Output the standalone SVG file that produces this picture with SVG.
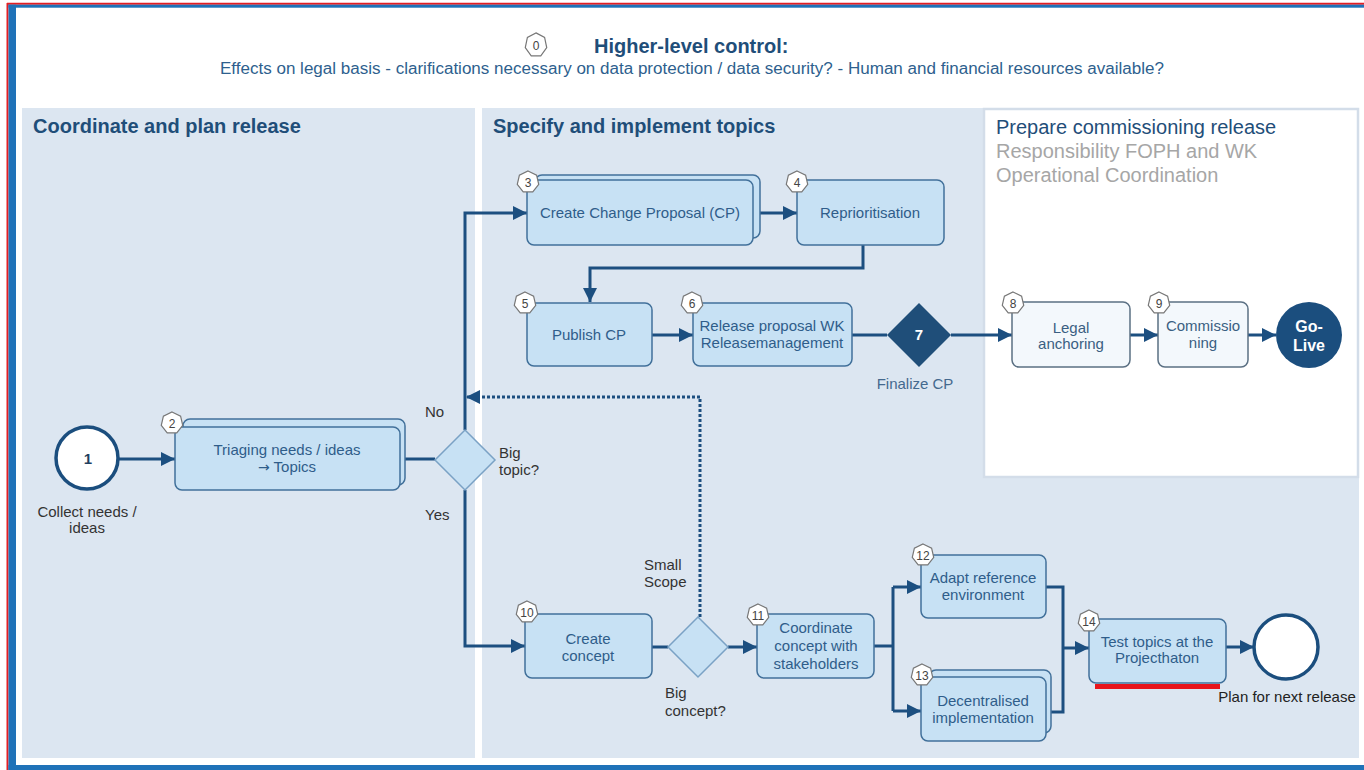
<svg xmlns="http://www.w3.org/2000/svg" xmlns:xlink="http://www.w3.org/1999/xlink" width="1364" height="770" viewBox="0 0 1364 770">
<style>
text{font-family:"Liberation Sans",Arial,Helvetica,sans-serif}
.lane{fill:#dce6f1}
.node{fill:#c7e1f4;stroke:#41709a;stroke-width:1.5}
.node2{fill:#f3f8fc;stroke:#5b7083;stroke-width:1.5}
.dia{fill:#c7e1f4;stroke:#7aa2c5;stroke-width:1.5}
.ntxt{font-size:15px;fill:#2f5d8a;text-anchor:middle}
.ntxt2{font-size:15px;fill:#3a5f82;text-anchor:middle}
.lbl{font-size:15px;fill:#333}
.hep{fill:#fff;stroke:#777;stroke-width:1.2}
.htxt{font-size:12px;fill:#444;text-anchor:middle}
.conn{fill:none;stroke:#1c4f80;stroke-width:3}
.dot{stroke-dasharray:3 2}
.ltitle{font-size:20px;font-weight:bold;fill:#1f4e79}
</style>
<defs>
<marker id="arr" markerUnits="userSpaceOnUse" markerWidth="15" markerHeight="14" refX="14" refY="7" orient="auto">
<path d="M0,0 L14,7 L0,14 z" fill="#1c4f80"/>
</marker>
<polygon id="hept" class="hep" points="0,-11 8.6,-6.86 10.72,2.45 4.77,9.91 -4.77,9.91 -10.72,2.45 -8.6,-6.86"/>
</defs>
<rect x="0" y="0" width="1364" height="770" fill="#fff"/>
<g id="frame">
<path d="M7,3.7 H1364 M7.5,3 V770" stroke="#e31e24" stroke-width="2" fill="none"/>
<rect x="8.5" y="4.7" width="1356" height="3" fill="#1f72b8"/>
<rect x="8.5" y="4.7" width="7.5" height="766" fill="#1f72b8"/>
<rect x="8.5" y="765" width="1356" height="5" fill="#1f72b8"/>
</g>
<g id="header">
<use xlink:href="#hept" href="#hept" transform="translate(536,45) scale(1,1.1)"/>
<text x="536" y="49.5" class="htxt">0</text>
<text x="594" y="53" font-size="20" font-weight="bold" fill="#1f4e79">Higher-level control:</text>
<text x="692" y="74" font-size="16" fill="#2e5f8e" text-anchor="middle" textLength="944" lengthAdjust="spacingAndGlyphs">Effects on legal basis - clarifications necessary on data protection / data security? - Human and financial resources available?</text>
</g>
<g id="lanes">
<rect class="lane" x="22" y="108" width="453" height="650"/>
<rect class="lane" x="482" y="108" width="877" height="650"/>
<rect x="984" y="109" width="374" height="368" fill="#fff" stroke="#d3dde9" stroke-width="2.5"/>
<text x="33" y="133" class="ltitle">Coordinate and plan release</text>
<text x="493" y="133" class="ltitle">Specify and implement topics</text>
<text x="996" y="134" font-size="20" fill="#1f4e79">Prepare commissioning release</text>
<text x="996" y="158" font-size="20" fill="#a6a6a6">Responsibility FOPH and WK</text>
<text x="996" y="182" font-size="20" fill="#a6a6a6">Operational Coordination</text>
</g>
<g id="connectors">
<path class="conn" d="M118,459 H175" marker-end="url(#arr)"/>
<path class="conn" d="M405,459 H435"/>
<path class="conn" d="M465,430 V213 H527" marker-end="url(#arr)"/>
<path class="conn" d="M753,213 H797" marker-end="url(#arr)"/>
<path class="conn" d="M863,245 V268 H590 V302" marker-end="url(#arr)"/>
<path class="conn" d="M652,335 H693" marker-end="url(#arr)"/>
<path class="conn" d="M852,335 H887"/>
<path class="conn" d="M951,335 H1012" marker-end="url(#arr)"/>
<path class="conn" d="M1130,335 H1158" marker-end="url(#arr)"/>
<path class="conn" d="M1248,335 H1276" marker-end="url(#arr)"/>
<path class="conn" d="M465,490 V646 H525" marker-end="url(#arr)"/>
<path class="conn" d="M652,647 H668"/>
<path class="conn" d="M728,647 H757" marker-end="url(#arr)"/>
<path class="conn dot" d="M700,617 V397 H466" marker-end="url(#arr)"/>
<path class="conn" d="M874,646 H893 M893,587 V711"/>
<path class="conn" d="M893,587 H921" marker-end="url(#arr)"/>
<path class="conn" d="M893,711 H921" marker-end="url(#arr)"/>
<path class="conn" d="M1046,587 H1063 V712 H1051"/>
<path class="conn" d="M1063,648 H1089" marker-end="url(#arr)"/>
<path class="conn" d="M1226,647 H1254" marker-end="url(#arr)"/>
</g>
<g id="n1">
<circle cx="87" cy="458" r="31" fill="#fff" stroke="#1b4e7e" stroke-width="3.5"/>
<text x="88" y="464" font-size="15" font-weight="bold" fill="#1f3f60" text-anchor="middle">1</text>
<text x="87" y="517" class="lbl" text-anchor="middle">Collect needs /</text>
<text x="87" y="533" class="lbl" text-anchor="middle">ideas</text>
</g>
<g id="n2">
<rect class="node" x="183" y="419" width="222" height="66" rx="7"/>
<rect class="node" x="175" y="427" width="225" height="63" rx="7"/>
<use xlink:href="#hept" href="#hept" x="172" y="423"/>
<text x="172" y="427.5" class="htxt">2</text>
<text x="287" y="455" class="ntxt">Triaging needs / ideas</text>
<text x="287" y="472" class="ntxt"><tspan font-family="'DejaVu Sans',sans-serif" font-size="14">→</tspan> Topics</text>
</g>
<g id="d1">
<polygon class="dia" points="465,430 495,460 465,490 435,460"/>
<text x="499" y="458" class="lbl">Big</text>
<text x="499" y="475" class="lbl">topic?</text>
<text x="425" y="417" class="lbl">No</text>
<text x="425" y="520" class="lbl">Yes</text>
</g>
<g id="n3">
<rect class="node" x="535" y="175" width="225" height="63" rx="7"/>
<rect class="node" x="527" y="180" width="226" height="65" rx="7"/>
<use xlink:href="#hept" href="#hept" x="528" y="182"/>
<text x="528" y="186.5" class="htxt">3</text>
<text x="640" y="218" class="ntxt">Create Change Proposal (CP)</text>
</g>
<g id="n4">
<rect class="node" x="797" y="180" width="147" height="65" rx="7"/>
<use xlink:href="#hept" href="#hept" x="797" y="182"/>
<text x="797" y="186.5" class="htxt">4</text>
<text x="870" y="218" class="ntxt">Reprioritisation</text>
</g>
<g id="n5">
<rect class="node" x="527" y="303" width="125" height="63" rx="7"/>
<use xlink:href="#hept" href="#hept" x="525" y="303"/>
<text x="525" y="307.5" class="htxt">5</text>
<text x="589" y="340" class="ntxt">Publish CP</text>
</g>
<g id="n6">
<rect class="node" x="693" y="303" width="159" height="63" rx="7"/>
<use xlink:href="#hept" href="#hept" x="692" y="303"/>
<text x="692" y="307.5" class="htxt">6</text>
<text x="772" y="331" class="ntxt">Release proposal WK</text>
<text x="772" y="348" class="ntxt">Releasemanagement</text>
</g>
<g id="n7">
<polygon points="919,303 951,335 919,367 887,335" fill="#1f4e79"/>
<text x="919" y="340" font-size="15" font-weight="bold" fill="#fff" text-anchor="middle">7</text>
<text x="915" y="389" font-size="15" fill="#44698e" text-anchor="middle">Finalize CP</text>
</g>
<g id="n8">
<rect class="node2" x="1012" y="302" width="118" height="65" rx="7"/>
<use xlink:href="#hept" href="#hept" x="1013" y="303"/>
<text x="1013" y="307.5" class="htxt">8</text>
<text x="1071" y="333" class="ntxt2">Legal</text>
<text x="1071" y="349" class="ntxt2">anchoring</text>
</g>
<g id="n9">
<rect class="node2" x="1158" y="302" width="90" height="65" rx="7"/>
<use xlink:href="#hept" href="#hept" x="1159" y="303"/>
<text x="1159" y="307.5" class="htxt">9</text>
<text x="1203" y="331" class="ntxt2">Commissio</text>
<text x="1203" y="348" class="ntxt2">ning</text>
</g>
<g id="golive">
<circle cx="1309" cy="335" r="33" fill="#1b4e7e"/>
<text x="1309" y="332" font-size="16" font-weight="bold" fill="#fff" text-anchor="middle">Go-</text>
<text x="1309" y="351" font-size="16" font-weight="bold" fill="#fff" text-anchor="middle">Live</text>
</g>
<g id="n10">
<rect class="node" x="525" y="614" width="127" height="64" rx="7"/>
<use xlink:href="#hept" href="#hept" x="527" y="612"/>
<text x="527" y="616.5" class="htxt">10</text>
<text x="588" y="644" class="ntxt">Create</text>
<text x="588" y="661" class="ntxt">concept</text>
</g>
<g id="d2">
<polygon class="dia" points="698,617 728,647 698,677 668,647"/>
<text x="665" y="698" class="lbl">Big</text>
<text x="665" y="716" class="lbl">concept?</text>
<text x="644" y="570" class="lbl">Small</text>
<text x="644" y="587" class="lbl">Scope</text>
</g>
<g id="n11">
<rect class="node" x="757" y="614" width="117" height="64" rx="7"/>
<use xlink:href="#hept" href="#hept" x="758" y="615"/>
<text x="758" y="619.5" class="htxt">11</text>
<text x="816" y="633" class="ntxt">Coordinate</text>
<text x="816" y="651" class="ntxt">concept with</text>
<text x="816" y="669" class="ntxt">stakeholders</text>
</g>
<g id="n12">
<rect class="node" x="921" y="555" width="125" height="63" rx="7"/>
<use xlink:href="#hept" href="#hept" x="923" y="555"/>
<text x="923" y="559.5" class="htxt">12</text>
<text x="983" y="583" class="ntxt">Adapt reference</text>
<text x="983" y="600" class="ntxt">environment</text>
</g>
<g id="n13">
<rect class="node" x="929" y="670" width="122" height="63" rx="7"/>
<rect class="node" x="921" y="677" width="125" height="64" rx="7"/>
<use xlink:href="#hept" href="#hept" x="922" y="675"/>
<text x="922" y="679.5" class="htxt">13</text>
<text x="983" y="706" class="ntxt">Decentralised</text>
<text x="983" y="723" class="ntxt">implementation</text>
</g>
<g id="n14">
<rect class="node" x="1089" y="619" width="137" height="64" rx="7"/>
<use xlink:href="#hept" href="#hept" x="1089" y="621"/>
<text x="1089" y="625.5" class="htxt">14</text>
<text x="1157" y="647" class="ntxt">Test topics at the</text>
<text x="1157" y="663" class="ntxt">Projecthaton</text>
<rect x="1095" y="684" width="125" height="5" fill="#e8141b"/>
</g>
<g id="end">
<circle cx="1286" cy="647" r="32" fill="#fff" stroke="#1b4e7e" stroke-width="3.5"/>
<text x="1287" y="702" font-size="15" fill="#222" text-anchor="middle">Plan for next release</text>
</g>
</svg>
